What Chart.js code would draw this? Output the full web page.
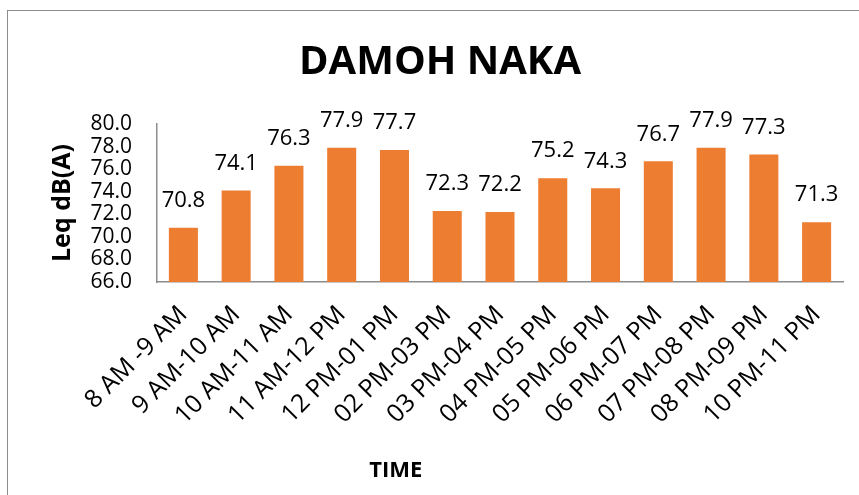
<!DOCTYPE html>
<html>
<head>
<meta charset="utf-8">
<title>DAMOH NAKA</title>
<script src="https://cdn.jsdelivr.net/npm/chart.js@4/dist/chart.umd.min.js"></script>
<style>
  html, body { margin: 0; padding: 0; background: #fff; overflow: hidden; }
  #frame {
    position: absolute; left: 7px; top: 10px;
    width: 880px; height: 490px;
    border-left: 1px solid #8c8c8c; border-top: 1px solid #8c8c8c;
  }
  canvas { display: block; }
</style>
</head>
<body>
<div id="frame"><canvas id="chart" width="880" height="484"></canvas></div>
<script>
// ------- data -------
const timeSlots = [
  '8 AM -9 AM', '9 AM-10 AM', '10 AM-11 AM', '11 AM-12 PM', '12 PM-01 PM',
  '02 PM-03 PM', '03 PM-04 PM', '04 PM-05 PM', '05 PM-06 PM', '06 PM-07 PM',
  '07 PM-08 PM', '08 PM-09 PM', '10 PM-11 PM'
];
const leqValues = [70.8, 74.1, 76.3, 77.9, 77.7, 72.3, 72.2, 75.2, 74.3, 76.7, 77.9, 77.3, 71.3];
const yTicks = [66, 68, 70, 72, 74, 76, 78, 80];

const FONT = "'Open Sans', 'Liberation Sans', sans-serif";
const BAR = '#ED7D31';
const AXIS = '#8c8c8c';

// value labels above each bar (no datalabels plugin offline)
const barValues = {
  id: 'barValues',
  afterDatasetsDraw(chart) {
    const { ctx } = chart;
    const meta = chart.getDatasetMeta(0);
    ctx.save();
    ctx.font = `22px ${FONT}`;
    ctx.fillStyle = '#000';
    ctx.textAlign = 'center';
    ctx.textBaseline = 'middle';
    meta.data.forEach((bar, i) => {
      ctx.fillText(leqValues[i].toFixed(1), bar.x, bar.y - 27);
    });
    ctx.restore();
  }
};

// x axis title sits left of centre in the original
const xTitle = {
  id: 'xTitle',
  afterDraw(chart) {
    const { ctx, chartArea } = chart;
    ctx.save();
    ctx.font = `bold 22px ${FONT}`;
    ctx.fillStyle = '#000';
    ctx.textAlign = 'center';
    ctx.textBaseline = 'middle';
    const x = chartArea.left + (chartArea.right - chartArea.left) * 0.348;
    ctx.fillText('TIME', x, chart.height - 24);
    ctx.restore();
  }
};

new Chart(document.getElementById('chart'), {
  type: 'bar',
  data: {
    labels: timeSlots,
    datasets: [{
      data: leqValues,
      backgroundColor: BAR,
      barPercentage: 0.55,
      categoryPercentage: 1.0
    }]
  },
  options: {
    responsive: false,
    animation: false,
    layout: { padding: { left: 29, right: 45, top: 0, bottom: 13 } },
    plugins: {
      legend: { display: false },
      tooltip: { enabled: false },
      title: {
        display: true,
        text: 'DAMOH NAKA',
        color: '#000',
        font: { family: FONT, size: 40, weight: 'bold' },
        padding: { top: 28, bottom: 37 }
      }
    },
    scales: {
      x: {
        grid: { display: false, drawTicks: false },
        border: { display: true, color: AXIS, width: 1.5 },
        ticks: {
          color: '#000',
          // small lineHeight keeps rotated labels anchored at the bar centre
          font: { family: FONT, size: 25, lineHeight: 0.4 },
          maxRotation: 45, minRotation: 45,
          padding: 25,
          autoSkip: false
        },
        afterFit(s) { s.height = 200; }
      },
      y: {
        min: 66, max: 80,
        afterBuildTicks(s) { s.ticks = yTicks.map(v => ({ value: v })); },
        grid: { display: false, drawTicks: false },
        border: { display: true, color: AXIS, width: 1.5 },
        ticks: {
          color: '#000',
          font: { family: FONT, size: 21 },
          padding: 25,
          autoSkip: false,
          callback: v => Number(v).toFixed(1)
        },
        title: {
          display: true,
          text: 'Leq dB(A)',
          color: '#000',
          font: { family: FONT, size: 25, weight: 'bold' },
          padding: { top: 11, bottom: 0 }
        },
        afterFit(s) { s.width = 120; }
      }
    }
  },
  plugins: [barValues, xTitle]
});
</script>
</body>
</html>
